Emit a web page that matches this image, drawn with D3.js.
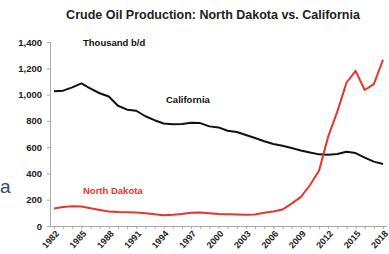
<!DOCTYPE html>
<html>
<head>
<meta charset="utf-8">
<script src="https://cdn.jsdelivr.net/npm/d3@7"></script>
<style>
  body { margin: 0; background: #fff; }
  svg { display: block; font-family: "Liberation Sans", Arial, sans-serif; }
</style>
</head>
<body>
<svg id="chart"></svg>
<script>
var years = d3.range(1982, 2019);

var california = [1025, 1030, 1055, 1085, 1045, 1010, 985, 915, 885, 877,
    835, 805, 780, 774, 776, 786, 783, 758, 750, 725,
    715, 692, 670, 645, 624, 610, 593, 575, 560, 545,
    543, 548, 565, 555, 520, 490, 472];

var northDakota = [134, 145, 150, 148, 135, 122, 110, 106, 104, 103,
    97, 90, 82, 86, 92, 100, 102, 97, 92, 90,
    88, 86, 88, 100, 110, 125, 170, 220, 310, 420,
    680, 870, 1090, 1180, 1035, 1080, 1265];

var yTicks = [0, 200, 400, 600, 800, 1000, 1200, 1400];
var xLabelYears = d3.range(1982, 2019, 3);

var width = 389,
    height = 254;

var svg = d3.select("#chart")
    .attr("width", width)
    .attr("height", height);

var xScale = d3.scaleLinear()
    .domain([1982, 2018])
    .range([54, 383]);

var yScale = d3.scaleLinear()
    .domain([0, 1400])
    .range([226, 42]);

var COMMAFORMAT = d3.format(",");

// title
svg.append("text")
    .attr("x", 213)
    .attr("y", 19)
    .attr("text-anchor", "middle")
    .attr("font-size", "12.5px")
    .attr("font-weight", "bold")
    .attr("fill", "#222")
    .text("Crude Oil Production: North Dakota vs. California");

// y axis
var yAxis = svg.append("g")
    .attr("transform", "translate(50,0)")
    .call(d3.axisLeft(yScale).tickValues(yTicks).tickSize(3).tickPadding(5).tickFormat(COMMAFORMAT));

yAxis.selectAll("text")
    .attr("font-size", "9.5px")
    .attr("font-weight", "bold")
    .attr("fill", "#222")
    .attr("font-family", "Liberation Sans, Arial, sans-serif");

// x axis
var xAxis = svg.append("g")
    .attr("transform", "translate(0,226)")
    .call(d3.axisBottom(xScale).tickValues(years).tickSize(3).tickSizeOuter(0)
        .tickFormat(function(d) { return xLabelYears.indexOf(d) >= 0 ? d : ""; }));

xAxis.select(".domain").attr("d", "M50,0.5H387");

xAxis.selectAll("text")
    .attr("font-size", "9px")
    .attr("font-weight", "bold")
    .attr("fill", "#222")
    .attr("font-family", "Liberation Sans, Arial, sans-serif")
    .attr("text-anchor", "end")
    .attr("dy", null)
    .attr("y", 0)
    .attr("transform", "translate(5,8) rotate(-48)");

svg.selectAll(".domain, .tick line").attr("stroke", "#aaa");

// lines
var line = d3.line()
    .x(function(d, i) { return xScale(years[i]); })
    .y(function(d) { return yScale(d); });

svg.append("path")
    .datum(california)
    .attr("fill", "none")
    .attr("stroke", "#111")
    .attr("stroke-width", 2)
    .attr("stroke-linejoin", "round")
    .attr("d", line);

svg.append("path")
    .datum(northDakota)
    .attr("fill", "none")
    .attr("stroke", "#e8352b")
    .attr("stroke-width", 2)
    .attr("stroke-linejoin", "round")
    .attr("d", line);

// labels
svg.append("text")
    .attr("x", 83)
    .attr("y", 46)
    .attr("font-size", "9.5px")
    .attr("font-weight", "bold")
    .attr("fill", "#111")
    .text("Thousand b/d");

svg.append("text")
    .attr("x", 166)
    .attr("y", 103)
    .attr("font-size", "9.5px")
    .attr("font-weight", "bold")
    .attr("fill", "#111")
    .text("California");

svg.append("text")
    .attr("x", 83)
    .attr("y", 194)
    .attr("font-size", "9.5px")
    .attr("font-weight", "bold")
    .attr("fill", "#e8352b")
    .text("North Dakota");

// slide text fragment at left edge
svg.append("text")
    .attr("x", 0)
    .attr("y", 193)
    .attr("font-size", "19px")
    .attr("fill", "#2f4a7e")
    .text("a");
</script>
</body>
</html>
